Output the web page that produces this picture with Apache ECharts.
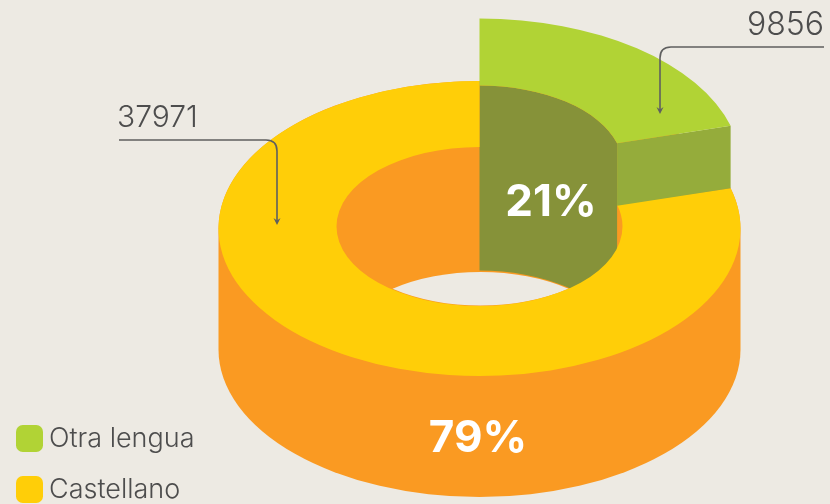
<!DOCTYPE html>
<html><head><meta charset="utf-8">
<style>html,body{margin:0;padding:0;background:#EDEAE3}#c{width:830px;height:504px}</style>
<script src="https://cdn.jsdelivr.net/npm/echarts@6/dist/echarts.min.js"></script>
</head><body><div id="c"></div>
<script>
const categories = ['Otra lengua', 'Castellano'];
const values = [9856, 37971];
const percentLabels = ['21%', '79%'];
const total = values[0] + values[1];

const FONT = 'Inter, Lato, sans-serif';
const C = {bg:'#EDEAE3', green:'#B1D335', olive:'#869239', end:'#95AC3B', yellow:'#FFCE08', orange:'#FA9A22', text:'#4D4D4D', line:'#5F5F5F'};
const G = {cx:479.5, cy:228.5, rx:261, ry:147.5, hrx:143, hry:79.5, hcy:226.5, depth:121, lift:62.5};
const rad = v => v / total * 2 * Math.PI;
const pt = (a, cy, rx, ry) => [G.cx + rx * Math.sin(a), cy - ry * Math.cos(a)];
const f = p => p[0].toFixed(2) + ' ' + p[1].toFixed(2);
function arc(a0, a1, cy, rx, ry, move) {
  const cw = a1 > a0, large = Math.abs(a1 - a0) > Math.PI ? 1 : 0;
  return (move ? 'M' : 'L') + f(pt(a0, cy, rx, ry)) + ' A' + rx + ' ' + ry + ' 0 ' + large + ' ' + (cw ? 1 : 0) + ' ' + f(pt(a1, cy, rx, ry));
}
function ring(a0, a1, cy, hcy) {
  return arc(a0, a1, cy, G.rx, G.ry, true) + ' ' + arc(a1, a0, hcy, G.hrx, G.hry, false) + ' Z';
}
const rawPath = (d, style, z2) => ({type:'path', z2, shape:{pathData:d}, style});
function label(text, x, y, size, weight, fill, align, z2) {
  return {type:'text', z2, x, y, style:{text, fill, font: weight + ' ' + size + 'px ' + FONT, textAlign:align, textVerticalAlign:'middle'}};
}
function leader(d, z2) { return rawPath(d, {fill:'none', stroke:C.line, lineWidth:1.6}, z2); }
function head(x, y, z2) { return rawPath('M'+(x-3.5)+' '+(y-6)+' L'+x+' '+(y-3.5)+' L'+(x+3.5)+' '+(y-6)+' L'+x+' '+(y+1)+' Z', {fill:C.line}, z2); }

function renderCastellano(params, api) {
  const v = api.value(0), a0 = rad(values[0]), a1 = a0 + rad(v);
  const cyB = G.cy + G.depth;
  const wall = 'M' + (G.cx - G.rx) + ' ' + G.cy + ' A' + G.rx + ' ' + G.ry + ' 0 1 1 ' + (G.cx + G.rx) + ' ' + G.cy +
    ' L' + (G.cx + G.rx) + ' ' + cyB + ' A' + G.rx + ' ' + G.ry + ' 0 1 1 ' + (G.cx - G.rx) + ' ' + cyB + ' Z';
  const hb = G.cy + G.depth + 1.5, my = (G.hcy + hb) / 2, t = (hb - G.hcy) / 2 / G.hry;
  const lx = G.hrx * Math.sqrt(1 - t * t);
  const lens = 'M' + (G.cx - lx + 2) + ' ' + my + ' A' + G.hrx + ' ' + G.hry + ' 0 0 1 ' + (G.cx + lx) + ' ' + my +
    ' A' + G.hrx + ' ' + G.hry + ' 0 0 1 ' + (G.cx - lx + 2) + ' ' + my + ' Z';
  return {type:'group', silent:true, children:[
    rawPath(wall, {fill:C.orange}, 1),
    rawPath(lens, {fill:C.bg}, 2),
    rawPath(ring(a0, a1, G.cy, G.hcy), {fill:C.yellow}, 4),
    leader('M119 140 L266 140 Q277 140 277 151 L277 222', 8), head(277, 224, 8),
    label(String(v), 117, 117.5, 30, 300, C.text, 'left', 8),
    label(percentLabels[1], 478, 439, 44, 700, '#fff', 'center', 8)
  ]};
}
function renderOtra(params, api) {
  const v = api.value(0), a1 = rad(v), cy = G.cy - G.lift, hcy = G.hcy - G.lift + 1;
  const inner = arc(0, a1, hcy, G.hrx, G.hry, true) + ' ' + arc(a1, 0, hcy + G.depth + 64, G.hrx, G.hry, false) + ' Z';
  const o = pt(a1, cy, G.rx, G.ry), i = pt(a1, hcy, G.hrx, G.hry);
  const end = 'M' + f(i) + ' L' + f(o) + ' L' + o[0].toFixed(2) + ' ' + (o[1] + G.lift) + ' L' + i[0].toFixed(2) + ' ' + (i[1] + G.lift) + ' Z';
  return {type:'group', silent:true, children:[
    rawPath(inner, {fill:C.olive}, 3),
    rawPath(end, {fill:C.end}, 5),
    rawPath(ring(0, a1, cy, hcy), {fill:C.green}, 6),
    leader('M824 47 L671 47 Q660 47 660 58 L660 111', 8), head(660, 113, 8),
    label(String(v), 824, 25, 32, 300, C.text, 'right', 8),
    label(percentLabels[0], 551, 203, 44, 700, '#fff', 'center', 8)
  ]};
}

const chart = echarts.init(document.getElementById('c'), null, {renderer:'canvas'});
chart.setOption({
  backgroundColor: C.bg,
  animation: false,
  legend: {
    orient:'vertical', left:16, top:425, height:120, padding:0, itemWidth:27, itemHeight:27, itemGap:24,
    icon:'roundRect', selectedMode:false, data:categories,
    textStyle:{color:C.text, fontFamily:FONT, fontSize:27, fontWeight:300, lineHeight:22, padding:[5,0,0,1]}
  },
  series: [
    {type:'custom', name:categories[0], coordinateSystem:'none', silent:true, itemStyle:{color:C.green}, data:[[values[0]]], renderItem:renderOtra},
    {type:'custom', name:categories[1], coordinateSystem:'none', silent:true, itemStyle:{color:C.yellow}, data:[[values[1]]], renderItem:renderCastellano}
  ]
});
</script></body></html>
